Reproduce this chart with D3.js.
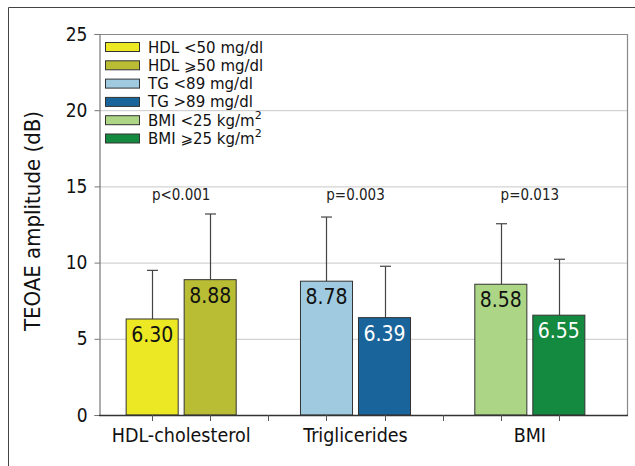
<!DOCTYPE html>
<html><head><meta charset="utf-8">
<script src="https://cdn.jsdelivr.net/npm/d3@7/dist/d3.min.js"></script>
<style>
body{margin:0;background:#fff;}
text{font-family:"DejaVu Sans Condensed","DejaVu Sans",sans-serif;}
text.leg{font-family:"DejaVu Sans",sans-serif;}
</style></head>
<body><svg id="c" width="635" height="466"></svg>
<script>
const groups = ["HDL-cholesterol","Triglicerides","BMI"];
const seriesLabels = ["HDL <50 mg/dl","HDL \u2A7E50 mg/dl","TG <89 mg/dl","TG >89 mg/dl","BMI <25 kg/m","BMI \u2A7E25 kg/m"];
const seriesSup = ["","","","","2","2"];
const seriesGroup = [0,0,1,1,2,2];
const means = [6.30, 8.88, 8.78, 6.39, 8.58, 6.55];
const sds = [3.19, 4.31, 4.21, 3.37, 3.97, 3.67];
const colors = ["#ece824","#b8bd33","#9fcae0","#19649a","#acd585","#148a40"];
const labelColors = ["#111","#111","#111","#fff","#111","#fff"];
const pValues = ["p<0.001","p=0.003","p=0.013"];
const yTicks = [0,5,10,15,20,25];

const svg = d3.select("#c");
const L = 99, R = 628, T = 34, B = 415;

// outer frame
svg.append("path").attr("d","M8.5,466 V7.5 H635").attr("fill","none").attr("stroke","#444").attr("stroke-width",1);

const y = d3.scaleLinear().domain([0,25]).range([B,T]);
const xg = d3.scaleBand().domain(groups).range([94,617]);
const xs = d3.scaleBand().domain([0,1]).range([0,xg.bandwidth()]).paddingInner(0.103).paddingOuter(0.554);

// gridlines
svg.append("g").selectAll("line").data(yTicks.filter(d=>d>0&&d<25)).join("line")
  .attr("x1",L).attr("x2",R).attr("y1",d=>y(d)+0.5).attr("y2",d=>y(d)+0.5)
  .attr("stroke","#c8c8c8").attr("stroke-width",1);

// frame top and right
svg.append("path").attr("d",`M${L},${T+0.5} H${R-0.5} V${B}`).attr("fill","none").attr("stroke","#888").attr("stroke-width",1.2);

// y axis
const ya = svg.append("g").attr("transform",`translate(${L+0.5},0)`)
  .call(d3.axisLeft(y).tickValues(yTicks).tickSize(5).tickPadding(7));
ya.select(".domain").attr("stroke","#777").attr("stroke-width",1.2);
ya.selectAll(".tick line").attr("stroke","#777");
ya.selectAll(".tick text").attr("font-size",19).attr("fill","#111");

// bars
const bx = i => xg(groups[seriesGroup[i]]) + xs(i%2);
const bw = xs.bandwidth();
const idx = d3.range(means.length);

// error bars
const eb = svg.append("g");
idx.forEach(i=>{
  const cx = Math.round(bx(i)+bw/2)+0.5;
  eb.append("line").attr("x1",cx).attr("x2",cx).attr("y1",y(means[i])).attr("y2",y(means[i]+sds[i])).attr("stroke","#444").attr("stroke-width",1.2);
  eb.append("line").attr("x1",cx-5.5).attr("x2",cx+5.5).attr("y1",y(means[i]+sds[i])).attr("y2",y(means[i]+sds[i])).attr("stroke","#444").attr("stroke-width",1.2);
});

svg.append("g").selectAll("rect").data(idx).join("rect")
  .attr("x",i=>bx(i)).attr("y",i=>y(means[i])).attr("width",bw).attr("height",i=>B-y(means[i]))
  .attr("fill",i=>colors[i]).attr("stroke","#333").attr("stroke-width",1);

svg.append("g").selectAll("text").data(idx).join("text")
  .attr("x",i=>bx(i)+bw/2).attr("y",i=>y(means[i])+23).attr("text-anchor","middle")
  .attr("font-size",21).attr("fill",i=>labelColors[i]).text(i=>means[i].toFixed(2));

// x axis
svg.append("line").attr("x1",L).attr("x2",R).attr("y1",B+0.5).attr("y2",B+0.5).attr("stroke","#333").attr("stroke-width",1.5);
const tickXs = idx.map(i=>bx(i)+bw/2).concat([xg(groups[1]), xg(groups[2])]);
svg.append("g").selectAll("line").data(tickXs).join("line")
  .attr("x1",d=>Math.round(d)+0.5).attr("x2",d=>Math.round(d)+0.5).attr("y1",B).attr("y2",B+6).attr("stroke","#555").attr("stroke-width",1);
svg.append("g").selectAll("text").data(groups).join("text")
  .attr("x",d=>xg(d)+xg.bandwidth()/2).attr("y",442).attr("text-anchor","middle")
  .attr("font-size",19.5).attr("fill","#111").text(d=>d);

// p-values
svg.append("g").selectAll("text").data(pValues).join("text")
  .attr("x",(d,i)=>xg(groups[i])+xg.bandwidth()/2).attr("y",200).attr("text-anchor","middle")
  .attr("font-size",15).attr("fill","#222").text(d=>d);

// y title
svg.append("text").attr("transform","translate(40,221) rotate(-90)").attr("text-anchor","middle")
  .attr("font-size",22).attr("fill","#111").text("TEOAE amplitude (dB)");

// legend
const lg = svg.append("g");
idx.forEach(i=>{
  const yy = 42 + i*18.3;
  lg.append("rect").attr("x",105.5).attr("y",yy+0.5).attr("width",34).attr("height",9)
    .attr("fill",colors[i]).attr("stroke","#333").attr("stroke-width",1);
  const t = lg.append("text").attr("class","leg").attr("x",148).attr("y",yy+10.5).attr("font-size",15).attr("fill","#111");
  t.append("tspan").text(seriesLabels[i]);
  if (seriesSup[i]) t.append("tspan").attr("font-size",11).attr("dy",-7).text(seriesSup[i]);
});
</script></body></html>
